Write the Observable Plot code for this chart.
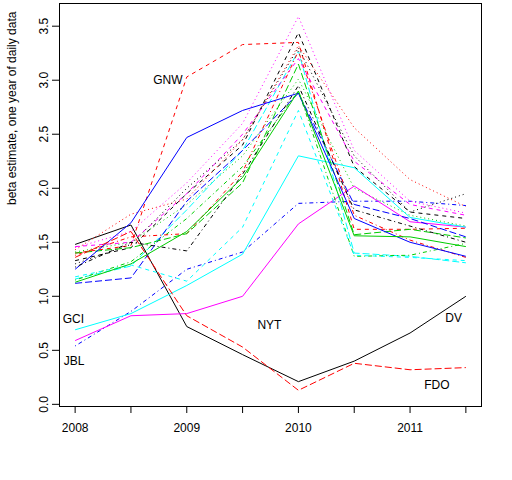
<!DOCTYPE html>
<html><head><meta charset="utf-8">
<script src="https://cdn.jsdelivr.net/npm/d3@7"></script>
<script src="https://cdn.jsdelivr.net/npm/@observablehq/plot@0.6"></script>
<style>body{margin:0;background:#fff} svg{font-family:"Liberation Sans",Arial,sans-serif}</style>
</head><body><div id="chart"></div>
<script>
// time points (years)
const years = [2008, 2008.5, 2009, 2009.5, 2010, 2010.5, 2011, 2011.5];
// beta estimates per series, in matplot order
const DV  = [1.48, 1.66, 0.72, 0.46, 0.21, 0.40, 0.66, 1.00];
const GNW = [1.40, 1.47, 3.03, 3.33, 3.35, 1.62, 1.62, 1.63];
const S3  = [1.41, 1.50, 1.85, 2.30, 3.01, 2.00, 1.75, 1.65];
const JBL = [0.54, 0.86, 1.25, 1.41, 1.86, 1.88, 1.88, 1.84];
const S5  = [1.16, 1.28, 1.80, 2.35, 3.27, 1.40, 1.37, 1.31];
const NYT = [0.59, 0.82, 0.84, 1.00, 1.67, 2.02, 1.69, 1.64];
const S7  = [1.33, 1.45, 1.95, 2.40, 3.44, 2.20, 1.78, 1.72];
const S8  = [1.43, 1.76, 1.90, 2.45, 3.32, 2.56, 2.08, 1.83];
const S9  = [1.15, 1.32, 1.72, 2.20, 2.90, 1.37, 1.38, 1.49];
const S10 = [1.12, 1.17, 1.88, 2.35, 2.88, 1.85, 1.72, 1.55];
const GCI = [0.69, 0.84, 1.10, 1.39, 2.30, 2.19, 1.73, 1.64];
const S12 = [1.46, 1.50, 1.95, 2.50, 3.20, 2.25, 1.85, 1.75];
const S13 = [1.30, 1.48, 2.00, 2.45, 3.30, 2.30, 1.78, 1.95];
const S14 = [1.38, 1.55, 1.58, 2.15, 3.27, 1.75, 1.52, 1.36];
const S15 = [1.40, 1.45, 1.58, 2.05, 3.15, 1.57, 1.62, 1.54];
const S16 = [1.25, 1.68, 2.47, 2.72, 2.88, 1.72, 1.50, 1.37];
const S17 = [1.18, 1.29, 1.14, 1.64, 2.72, 1.38, 1.36, 1.33];
const S18 = [1.45, 1.60, 2.05, 2.60, 3.59, 2.35, 1.88, 1.77];
const S19 = [1.27, 1.50, 1.42, 2.13, 2.95, 1.80, 1.65, 1.50];
const FDO = [1.36, 1.60, 0.82, 0.53, 0.13, 0.38, 0.32, 0.34];
const S21 = [1.13, 1.30, 1.60, 2.10, 2.90, 1.56, 1.55, 1.46];
const seriesNames = ["DV","GNW","S3","JBL","S5","NYT","S7","S8","S9","S10","GCI","S12","S13","S14","S15","S16","S17","S18","S19","FDO","S21"];
const seriesValues = [DV,GNW,S3,JBL,S5,NYT,S7,S8,S9,S10,GCI,S12,S13,S14,S15,S16,S17,S18,S19,FDO,S21];
// text labels
const labelNames = ["GNW","GCI","JBL","NYT","DV","FDO"];
const labelX = [2008.83, 2007.985, 2007.99, 2009.74, 2011.39, 2011.24];
const labelY = [3.00, 0.79, 0.40, 0.73, 0.80, 0.18];
// ticks
const xTicks = [2008, 2008.5, 2009, 2009.5, 2010, 2010.5, 2011, 2011.5];
const yTicks = [0, 0.5, 1, 1.5, 2, 2.5, 3, 3.5];

// matplot style cycle
const palette = ["#000000", "#FF0000", "#00CD00", "#0000FF", "#00FFFF", "#FF00FF"];
const dashes = [null, "4,4", "1,3", "1,3,4,3", "7,3"];

const lineMarks = seriesValues.map((vals, i) =>
  Plot.line(years.map((t, j) => ({t, v: vals[j]})), {
    x: "t", y: "v",
    stroke: palette[i % 6],
    strokeWidth: 1,
    strokeDasharray: dashes[i % 5] || undefined,
    strokeLinejoin: "round", strokeLinecap: "butt"
  })
);

const labels = labelNames.map((n, i) => ({n, x: labelX[i], y: labelY[i]}));

const chart = Plot.plot({
  width: 512, height: 480,
  marginLeft: 59, marginRight: 31, marginTop: 3, marginBottom: 74,
  style: {fontFamily: '"Liberation Sans", Arial, sans-serif', fontSize: "12px", background: "#fff"},
  x: {domain: [2007.86, 2011.64]},
  y: {domain: [-0.02, 3.71]},
  marks: [
    ...lineMarks,
    Plot.text(labels, {x: "x", y: "y", text: "n", fontSize: 12, fill: "#000"}),
    Plot.frame({stroke: "#000", strokeWidth: 1}),
    Plot.axisX({ticks: xTicks, tickFormat: d => Number.isInteger(d) ? String(d) : "", tickSize: 7, tickPadding: 10, fontSize: 12, label: null, stroke: "#000"}),
    Plot.axisY({ticks: yTicks, tickFormat: d3.format(".1f"), tickSize: 7, tickRotate: -90, tickPadding: 5, fontSize: 12, label: null}),
    Plot.text(["beta estimate, one year of daily data"], {frameAnchor: "left", rotate: -90, dx: -47, fontSize: 12, fill: "#000"})
  ]
});
document.getElementById("chart").appendChild(chart);
</script>
</body></html>
